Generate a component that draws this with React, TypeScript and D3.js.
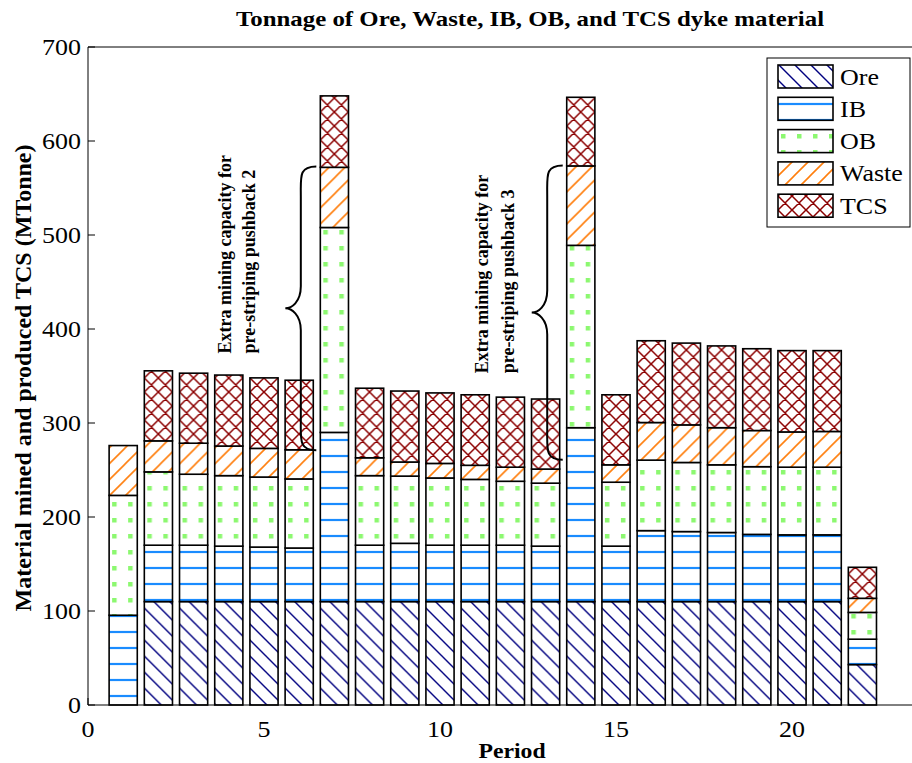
import React from "react";
import * as d3 from "d3";

// Mining schedule per period (MTonne), stacked bottom to top
const periods = d3.range(1, 23);
const oreValues = [0, 110, 110, 110, 110, 110, 110, 110, 110, 110, 110, 110, 110, 110, 110, 110, 110, 110, 110, 110, 110, 43];
const ibValues = [95.5, 60, 60, 59, 58, 57, 180, 60, 62, 60, 60, 60, 59, 185, 59, 75.5, 74.5, 73.5, 71.5, 71, 71, 27];
const obValues = [127.5, 78, 75.5, 75, 74.5, 73.5, 218, 74, 71.5, 71.5, 70, 68, 67, 194, 68, 75, 73.5, 72, 72, 72, 72, 28.5];
const wasteValues = [53, 33, 33, 31.5, 30.5, 31, 64, 19, 15, 15.5, 15, 15, 15, 84.5, 18.5, 40, 40, 39.5, 38.5, 37.5, 38, 15];
const tcsValues = [0, 74.5, 74.5, 75.5, 75, 74, 76, 74, 75.5, 75, 75, 74.5, 74.5, 73, 74.5, 87, 87, 87, 87, 86.5, 86, 33];

const seriesNames = ["Ore", "IB", "OB", "Waste", "TCS"];
const xTicks = [0, 5, 10, 15, 20];
const yTicks = [0, 100, 200, 300, 400, 500, 600, 700];

// Braces marking extra capacity, with their two-line notes
const braceNotes = [
  { period: 7, from: 271, to: 573, lines: ["Extra mining capacity for", "pre-striping pushback 2"], textX: [3.89, 4.57], textBottom: 374 },
  { period: 14, from: 261, to: 574, lines: ["Extra mining capacity for", "pre-striping pushback 3"], textX: [11.18, 11.93], textBottom: 353 },
];

const W = 912;
const H = 763;
const FONT = "'Liberation Serif', 'Times New Roman', serif";
const SX = 1.13; // wide glyph proportions of the figure's typeface

const x = d3.scaleLinear().domain([0, 24]).range([88, 932.8]);
const y = d3.scaleLinear().domain([0, 700]).range([705, 47]);
const barW = x(0.8) - x(0);

const table = periods.map((p, i) => ({
  period: p,
  Ore: oreValues[i],
  IB: ibValues[i],
  OB: obValues[i],
  Waste: wasteValues[i],
  TCS: tcsValues[i],
}));
const stacked = d3.stack<any>().keys(seriesNames)(table);

function WideText(props: {
  x: number;
  y: number;
  size: number;
  anchor?: string;
  bold?: boolean;
  dy?: string;
  children: React.ReactNode;
}) {
  return (
    <text
      transform={`translate(${props.x},${props.y}) scale(${SX},1)`}
      textAnchor={props.anchor || "start"}
      fontSize={props.size}
      fontWeight={props.bold ? "bold" : "normal"}
      dy={props.dy}
    >
      {props.children}
    </text>
  );
}

function Patterns() {
  return (
    <defs>
      <pattern id="pat-Ore" patternUnits="userSpaceOnUse" width={16} height={16}>
        <path d="M-4,-4L20,20M-4,12L4,20M12,-4L20,4" stroke="#000080" strokeWidth={1.4} />
      </pattern>
      <pattern id="pat-IB" patternUnits="userSpaceOnUse" width={16} height={16}>
        <line x1={-1} x2={17} y1={8} y2={8} stroke="#1a8cff" strokeWidth={2.2} />
      </pattern>
      <pattern id="pat-OB" patternUnits="userSpaceOnUse" width={16} height={16}>
        <rect x={3} y={6} width={4.5} height={4.5} fill="#8cf870" />
      </pattern>
      <pattern id="pat-Waste" patternUnits="userSpaceOnUse" width={16} height={16}>
        <path d="M-4,20L20,-4M-4,4L4,-4M12,20L20,12" stroke="#ff7f0e" strokeWidth={1.6} />
      </pattern>
      <pattern id="pat-TCS" patternUnits="userSpaceOnUse" width={14} height={14}>
        <path d="M-3,-3L17,17M-3,11L3,17M11,-3L17,3M-3,17L17,-3M-3,3L3,-3M11,17L17,11" stroke="#8b0000" strokeWidth={1.5} />
      </pattern>
    </defs>
  );
}

function bracePath(xEnd: number, yTop: number, yBottom: number) {
  const w = 31;
  const xMid = xEnd - w * 0.5;
  const xTip = xEnd - w;
  const ym = (yTop + yBottom) / 2;
  const p = d3.path();
  p.moveTo(xEnd, yTop);
  p.bezierCurveTo(xMid - 2, yTop, xMid, yTop + 10, xMid, yTop + 30);
  p.lineTo(xMid, ym - 22);
  p.bezierCurveTo(xMid, ym - 6, xTip + 6, ym, xTip, ym);
  p.bezierCurveTo(xTip + 6, ym, xMid, ym + 6, xMid, ym + 22);
  p.lineTo(xMid, yBottom - 30);
  p.bezierCurveTo(xMid, yBottom - 10, xMid - 2, yBottom, xEnd, yBottom);
  return p.toString();
}

export default function App() {
  const legendX = 767;
  const legendY = 58;
  const legendRow = 32.3;

  return (
    <svg
      width={W}
      height={H}
      style={{ position: "absolute", left: 0, top: 0, background: "#fff" }}
      fontFamily={FONT}
    >
      <Patterns />
      <rect x={0} y={0} width={W} height={H} fill="#fff" />

      {/* x ticks (inward) */}
      {xTicks.map((t) => (
        <line key={"xt" + t} x1={x(t)} x2={x(t)} y1={y(0)} y2={y(0) - 7} stroke="#000" />
      ))}

      {/* stacked bars */}
      {table.map((row, i) => (
        <g key={"bar" + row.period} transform={`translate(${x(row.period) - barW / 2},0)`}>
          {stacked.map((s) => {
            const d = s[i];
            const h = y(d[0]) - y(d[1]);
            if (h <= 0.01) return null;
            return (
              <g key={s.key}>
                <rect x={0} y={y(d[1])} width={barW} height={h} fill="#fff" />
                <rect x={0} y={y(d[1])} width={barW} height={h} fill={`url(#pat-${s.key})`} />
                <rect x={0} y={y(d[1])} width={barW} height={h} fill="none" stroke="#000" strokeWidth={1.6} />
              </g>
            );
          })}
        </g>
      ))}

      {/* axes frame */}
      <line x1={x(0)} x2={x(0)} y1={y(700)} y2={y(0)} stroke="#000" />
      <line x1={x(0)} x2={W} y1={y(0)} y2={y(0)} stroke="#000" />
      <line x1={x(0)} x2={W} y1={y(700)} y2={y(700)} stroke="#000" />
      {yTicks.map((t) => (
        <g key={"yt" + t}>
          <line x1={x(0)} x2={x(0) + 7} y1={y(t)} y2={y(t)} stroke="#000" />
          <WideText x={81} y={y(t)} dy="0.35em" anchor="end" size={23}>
            {t}
          </WideText>
        </g>
      ))}
      {xTicks.map((t) => (
        <WideText key={"xl" + t} x={x(t)} y={737} anchor="middle" size={23}>
          {t}
        </WideText>
      ))}

      {/* braces and notes */}
      {braceNotes.map((b) => (
        <g key={"brace" + b.period}>
          <path
            d={bracePath(x(b.period) - barW / 2 - 4, y(b.to), y(b.from))}
            fill="none"
            stroke="#000"
            strokeWidth={2}
          />
          {b.lines.map((ln, k) => (
            <text
              key={k}
              transform={`translate(${x(b.textX[k])},${y(b.textBottom)}) rotate(-90)`}
              dy="0.35em"
              textAnchor="start"
              fontSize={18}
              fontWeight="bold"
            >
              {ln}
            </text>
          ))}
        </g>
      ))}

      {/* legend */}
      <rect x={legendX} y={legendY} width={143} height={169} fill="#fff" stroke="#000" />
      {seriesNames.map((name, k) => {
        const sy = legendY + 7 + k * legendRow;
        return (
          <g key={"lg" + name}>
            <g transform={`translate(${legendX + 11},0)`}>
              <rect x={0} y={sy} width={55} height={23} fill="#fff" />
              <rect x={0} y={sy} width={55} height={23} fill={`url(#pat-${name})`} />
              <rect x={0} y={sy} width={55} height={23} fill="none" stroke="#000" strokeWidth={1.6} />
            </g>
            <WideText x={legendX + 73} y={sy + 11.5} dy="0.35em" size={23}>
              {name}
            </WideText>
          </g>
        );
      })}

      {/* titles */}
      <WideText x={530} y={26} anchor="middle" size={22} bold>
        Tonnage of Ore, Waste, IB, OB, and TCS dyke material
      </WideText>
      <WideText x={512} y={758} anchor="middle" size={21} bold>
        Period
      </WideText>
      <text
        transform={`translate(23,${378}) rotate(-90)`}
        dy="0.35em"
        textAnchor="middle"
        fontSize={24}
        fontWeight="bold"
      >
        Material mined and produced TCS (MTonne)
      </text>
    </svg>
  );
}
